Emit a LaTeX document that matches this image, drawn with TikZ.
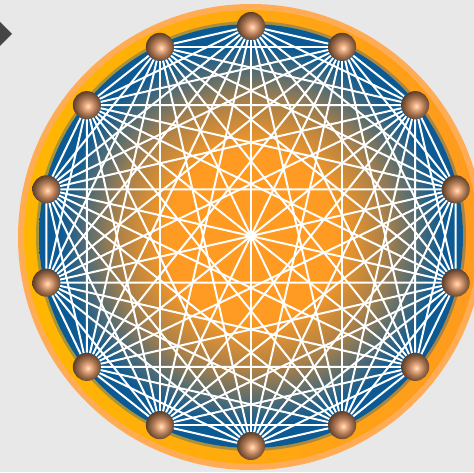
\documentclass[tikz,border=0pt]{standalone}
\usepackage{tikz}
\usetikzlibrary{shadings}

\definecolor{bggray}{HTML}{E8E8E8}
\definecolor{tabdark}{HTML}{454545}
\definecolor{rimlight}{HTML}{FFAC55}
\definecolor{ringyellow}{HTML}{FFB700}
\definecolor{ringorange}{HTML}{FF9A1E}
\definecolor{hubcore}{HTML}{FF9A22}
\definecolor{hubmid}{HTML}{A8804A}
\definecolor{hubblue}{HTML}{0B5A94}
\definecolor{beadhi}{HTML}{FFE6CC}
\definecolor{beadlt}{HTML}{F2B48A}
\definecolor{beadmd}{HTML}{B07A55}
\definecolor{beaddk}{HTML}{5C3D28}

\pgfdeclareradialshading{hubglow}{\pgfpoint{0bp}{0bp}}{color(0bp)=(hubcore); color(10bp)=(hubcore); color(16bp)=(hubmid); color(22.5bp)=(hubblue); color(25bp)=(hubblue); color(50bp)=(hubblue)}
\pgfdeclareradialshading{bead}{\pgfpoint{2bp}{-2bp}}{color(0bp)=(beadhi); color(5bp)=(beadlt); color(14bp)=(beadmd); color(26bp)=(beaddk); color(50bp)=(beaddk)}

\begin{document}
\begin{tikzpicture}[
    x=1pt, y=1pt,
    vertex/.style={circle, minimum size=28pt, inner sep=0pt, shade, shading=bead},
    link/.style={draw=white, line width=2pt}
]
\useasboundingbox (0,0) rectangle (474,472);
\clip (0,0) rectangle (474,472);
\fill[bggray] (0,0) rectangle (474,472);

% tab at the top left
\fill[tabdark] (-2,452) -- (12,438) -- (-2,424) -- cycle;

% outer ring
\shade[left color=ringyellow, right color=ringorange] (251,235) circle (230);
\draw[rimlight, line width=6pt] (251,235) circle (230);

% hub disk
\shade[shading=hubglow] (251,236) circle (212);
\draw[hubblue, opacity=0.35, line width=3pt] (251,236) circle (213.5);

\begin{scope}[shift={(251,236)}]
\foreach \k in {1,...,14}
    \node[vertex] (v\k) at ({90+(\k-1)*360/14}:210) {};
\foreach \i in {1,...,14}
    \foreach \j in {1,...,14}
        {\ifnum\i<\j \draw[link] (v\i) -- (v\j); \fi}
\end{scope}
\end{tikzpicture}
\end{document}
